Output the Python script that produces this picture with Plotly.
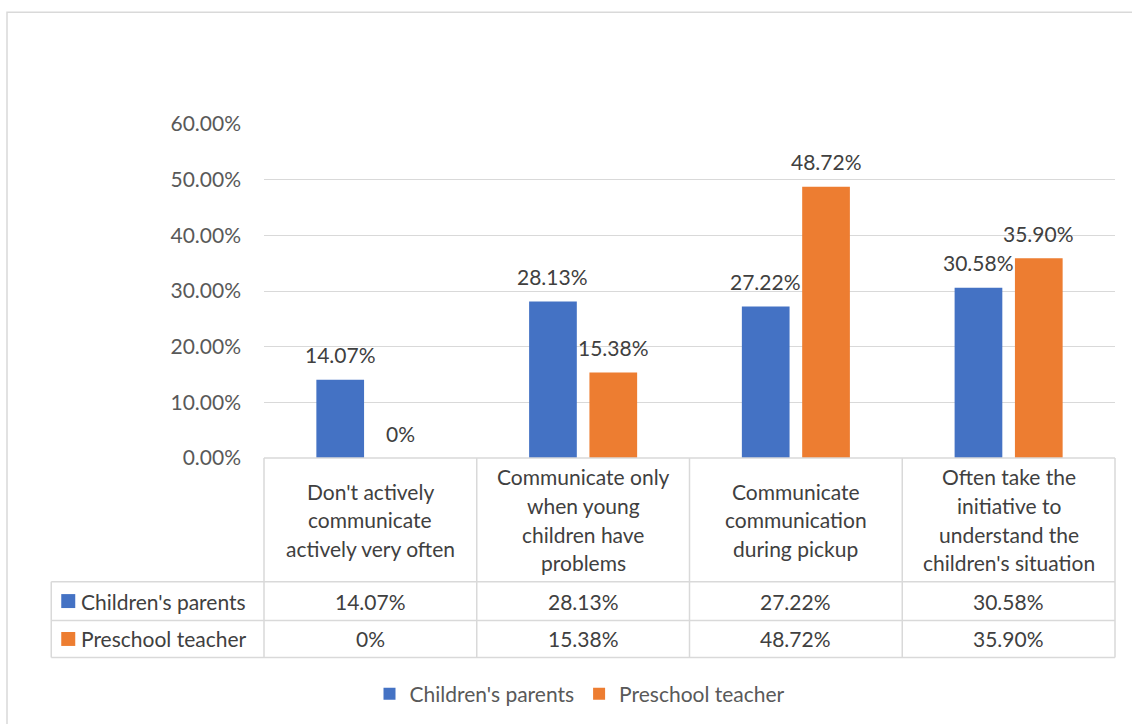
import plotly.graph_objects as go

# ---------------- data ----------------
categories = [
    "Don't actively<br>communicate<br>actively very often",
    "Communicate only<br>when young<br>children have<br>problems",
    "Communicate<br>communication<br>during pickup",
    "Often take the<br>initiative to<br>understand the<br>children's situation",
]
series_names = ["Children's parents", "Preschool teacher"]
parents = [0.1407, 0.2813, 0.2722, 0.3058]
teachers = [0.0, 0.1538, 0.4872, 0.3590]
y_tickvals = [0, 0.1, 0.2, 0.3, 0.4, 0.5, 0.6]

# ---------------- styling / layout ----------------
W, H = 1132, 724
L, R, T, B = 264, 1115, 124, 459          # plot area in pixels
PW, PH = R - L, B - T
BLUE, ORANGE = "#4472C4", "#ED7D31"
GRID = "#D9D9D9"
TXT = "#404040"
TICK = "#595959"
FONT = "Lato"
FS = 21

def px_x(p):
    return (p - L) / PW

def px_y(p):
    return (B - p) / PH

n = len(categories)
def cat_x(i):  # category index (data coordinate) -> paper x
    return (i + 0.5) / n

def fmt(v):
    return "0%" if v == 0 else f"{v*100:.2f}%"

series = [(series_names[0], parents, BLUE), (series_names[1], teachers, ORANGE)]

fig = go.Figure()
for name, vals, col in series:
    fig.add_trace(go.Bar(x=list(range(n)), y=vals, name=name, marker_color=col,
                         marker_line_width=0))

shapes = []
annotations = []

# data labels above bars
slot = PW / n * (1 - 0.433) / 2
for k, (name, vals, col) in enumerate(series):
    off = (k - 0.5) * slot
    for i, v in enumerate(vals):
        annotations.append(dict(x=i, y=v, xref="x", yref="y", text=fmt(v),
                                showarrow=False, xshift=off, yshift=25,
                                yanchor="middle",
                                font=dict(family=FONT, size=FS, color=TXT)))

# table rows (pixel rows)
row_top, row1, row2, row3 = B, 583, 622, 659
lc = dict(color=GRID, width=1.5)
# horizontal lines
shapes.append(dict(type="line", xref="paper", yref="paper", x0=cat_x(-0.5), x1=cat_x(n - 0.5),
                   y0=px_y(row_top), y1=px_y(row_top), line=lc))
for ry in (row1, row2, row3):
    shapes.append(dict(type="line", xref="paper", yref="paper", x0=cat_x(-1.5), x1=cat_x(n - 0.5),
                       y0=px_y(ry), y1=px_y(ry), line=lc))
# vertical lines
shapes.append(dict(type="line", xref="paper", yref="paper", x0=cat_x(-1.5), x1=cat_x(-1.5),
                   y0=px_y(row1), y1=px_y(row3), line=lc))
for i in range(n + 1):
    xb = cat_x(i - 0.5)
    shapes.append(dict(type="line", xref="paper", yref="paper", x0=xb, x1=xb,
                       y0=px_y(row_top), y1=px_y(row3), line=lc))

# header labels (each line placed separately for Excel-like line spacing)
LS = 28.7
hc = (row_top + row1) / 2
for i, c in enumerate(categories):
    lines = c.split("<br>")
    for j, ln in enumerate(lines):
        yy = hc + (j - (len(lines) - 1) / 2) * LS
        annotations.append(dict(x=cat_x(i), y=px_y(yy), xref="paper", yref="paper",
                                text=ln, showarrow=False, xanchor="center", yanchor="middle",
                                font=dict(family=FONT, size=FS, color=TXT)))

# data rows
for r, (name, vals, col) in enumerate(series):
    top, bot = (row1, row2) if r == 0 else (row2, row3)
    cy = (top + bot) / 2
    left = L - PW / n
    shapes.append(dict(type="rect", xref="paper", yref="paper",
                       x0=px_x(left + 10), x1=px_x(left + 24),
                       y0=px_y(cy - 7), y1=px_y(cy + 7),
                       fillcolor=col, line=dict(width=0)))
    annotations.append(dict(x=px_x(left + 28), y=px_y(cy), xref="paper", yref="paper",
                            text=name, showarrow=False, xanchor="left", yanchor="middle",
                            font=dict(family=FONT, size=FS, color=TXT)))
    for i, v in enumerate(vals):
        annotations.append(dict(x=cat_x(i), y=px_y(cy), xref="paper", yref="paper",
                                text=fmt(v), showarrow=False, xanchor="center", yanchor="middle",
                                font=dict(family=FONT, size=FS, color=TXT)))

# outer chart border
shapes.append(dict(type="rect", xref="paper", yref="paper",
                   x0=px_x(7), x1=px_x(W + 10), y0=px_y(12), y1=px_y(H + 10),
                   line=dict(color=GRID, width=1.5), fillcolor="rgba(0,0,0,0)"))

fig.update_layout(
    width=W, height=H,
    margin=dict(l=L, r=W - R, t=T, b=H - B, pad=0),
    paper_bgcolor="white", plot_bgcolor="white",
    barmode="group", bargap=0.433, bargroupgap=0.209,
    font=dict(family=FONT, size=FS, color=TICK),
    xaxis=dict(range=[-0.5, n - 0.5], showticklabels=False, showgrid=False,
               zeroline=False, showline=False, ticks=""),
    yaxis=dict(range=[0, 0.6], tickvals=y_tickvals, tickformat=".2%",
               showgrid=True, gridcolor=GRID, gridwidth=1.3, zeroline=False,
               showline=False, ticks="", ticklabelstandoff=22,
               tickfont=dict(family=FONT, size=FS, color=TICK)),
    legend=dict(orientation="h", x=px_x(580), xanchor="center", y=px_y(694),
                yanchor="middle", font=dict(family=FONT, size=FS, color=TICK),
                itemwidth=30, traceorder="normal"),
    shapes=shapes, annotations=annotations,
)

fig.write_html("out.html")
